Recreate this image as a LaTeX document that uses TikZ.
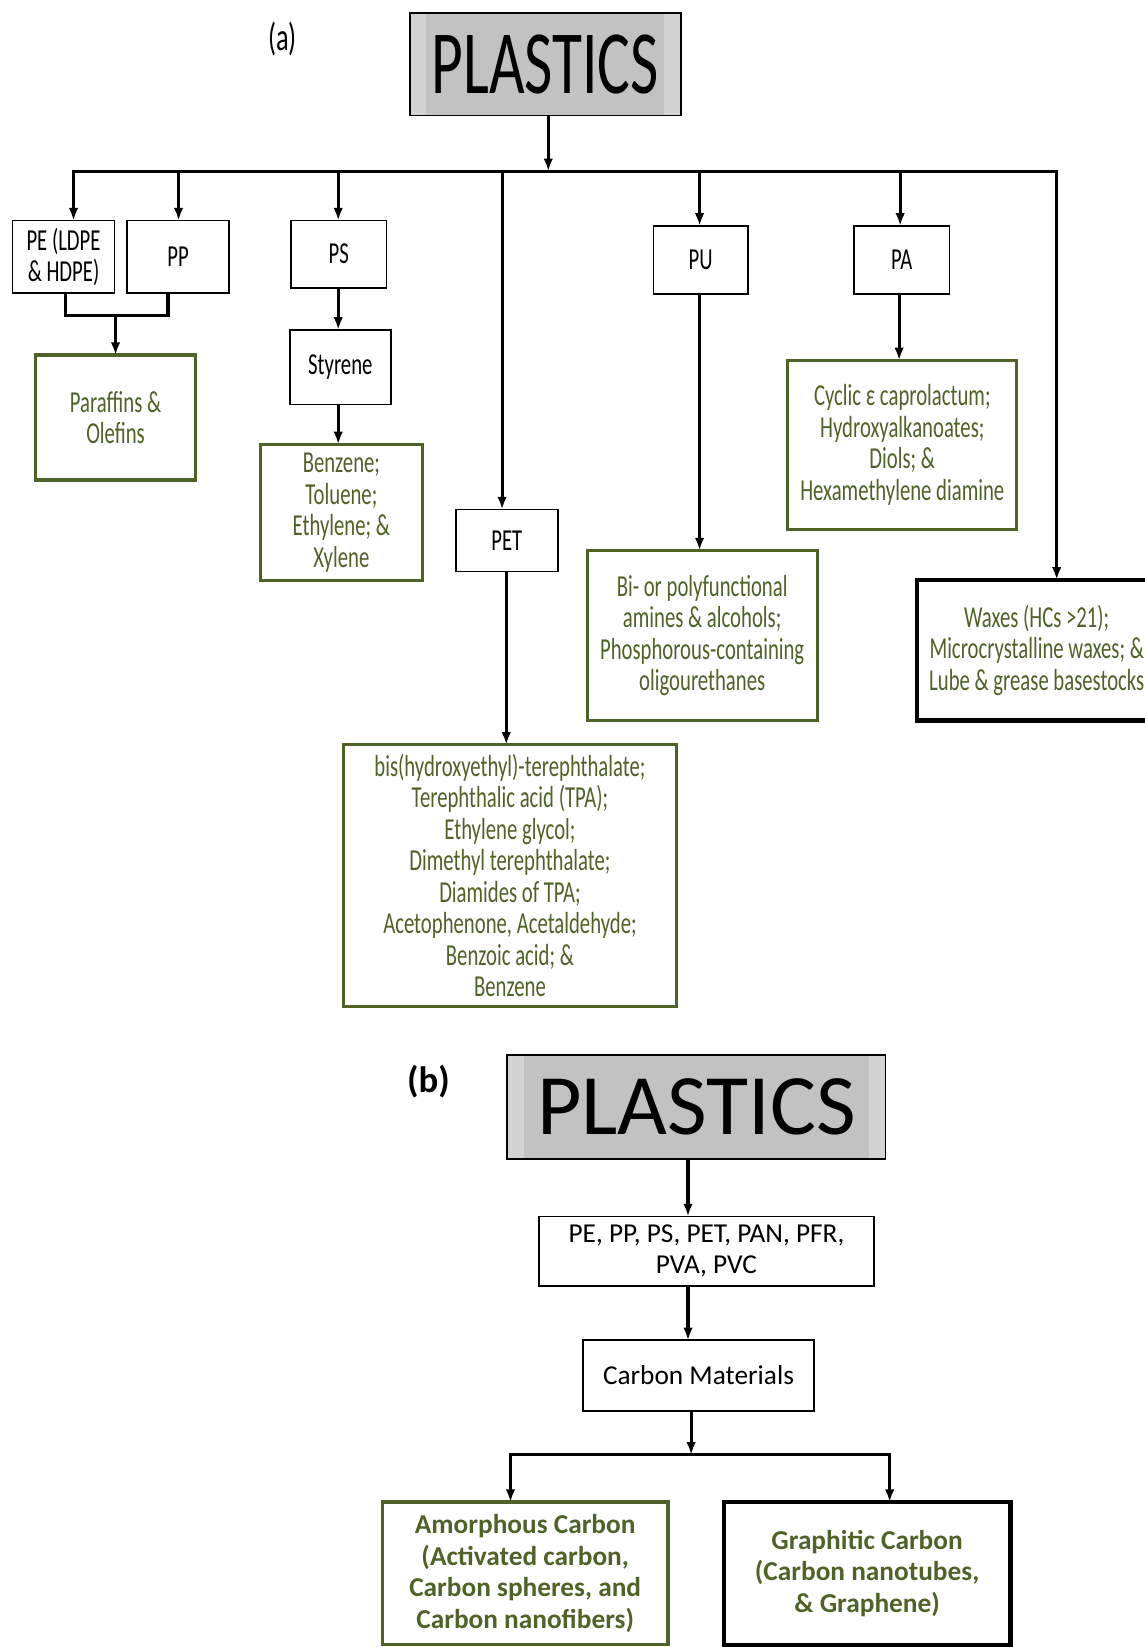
\documentclass[tikz,border=0pt]{standalone}
\usepackage{fontspec}
\setmainfont{Carlito}
\newfontfamily\cf[FakeStretch=0.68]{Carlito}
\usetikzlibrary{arrows.meta}
\definecolor{olive}{HTML}{4F6228}
\definecolor{plgray}{HTML}{C2C2C2}
\definecolor{plgrayl}{HTML}{D3D3D3}
\begin{document}
\begin{tikzpicture}[x=1pt,y=-1pt,
  every node/.style={inner sep=0pt, outer sep=0pt, align=center},
  conn/.style={line width=3pt},
  arr/.style={line width=3pt,-{Latex[length=12pt,width=9pt]}},
  graybox/.style={draw=black,line width=1.8pt,fill=plgrayl,
    path picture={\fill[plgray] ([xshift=16pt]path picture bounding box.south west) rectangle ([xshift=-16pt]path picture bounding box.north east);}},
  abox/.style={draw=black,line width=1.6pt,fill=white,font=\cf\fontsize{29}{30}\selectfont},
  agreen/.style={draw=olive,line width=3pt,fill=white,text=olive,font=\cf\fontsize{29}{30}\selectfont},
  ablack/.style={draw=black,line width=4pt,fill=white,text=olive,font=\cf\fontsize{29}{30}\selectfont},
  bbox/.style={draw=black,line width=1.6pt,fill=white,font=\fontsize{26}{29}\selectfont},
  bgreen/.style={draw=olive,line width=3pt,fill=white,text=olive,font=\bfseries\fontsize{26}{30}\selectfont},
  bblack/.style={draw=black,line width=4pt,fill=white,text=olive,font=\bfseries\fontsize{26}{30}\selectfont}
]
\useasboundingbox (0,0) rectangle (1090,1568);
\fill[white] (0,0) rectangle (1090,1568);

% ---------------- (a) ----------------
\node[font=\cf\fontsize{37}{37}\selectfont] (labA) at (269,37) {(a)};
\node[graybox, minimum width=258, minimum height=98, font=\cf\fontsize{86}{86}\selectfont] (plasA) at (519,61) {PLASTICS};

\node[abox, minimum width=97, minimum height=69] (PE) at (60.5,244.5) {PE (LDPE\\\& HDPE)};
\node[abox, minimum width=97, minimum height=69] (PP) at (169.5,244.5) {PP};
\node[abox, minimum width=91, minimum height=64] (PS) at (322.5,242) {PS};
\node[abox, minimum width=96, minimum height=71] (Sty) at (324,349.5) {Styrene};
\node[agreen, minimum width=152, minimum height=119] (Par) at (110,397.5) {Paraffins \&\\Olefins};
\node[agreen, minimum width=154, minimum height=130] (Ben) at (325,488) {\rule{0pt}{0pt}\raisebox{0pt}{}Benzene;\\Toluene;\\Ethylene; \&\\Xylene};
\node[abox, minimum width=97, minimum height=59] (PET) at (482.5,514.5) {PET};
\node[agreen, minimum width=317, minimum height=249] (PETp) at (485.5,833.5) {bis(hydroxyethyl)-terephthalate;\\Terephthalic acid (TPA);\\Ethylene glycol;\\Dimethyl terephthalate;\\Diamides of TPA;\\Acetophenone, Acetaldehyde;\\Benzoic acid; \&\\Benzene};
\node[abox, minimum width=90, minimum height=65] (PU) at (667,247.5) {PU};
\node[agreen, minimum width=219, minimum height=162] (PUp) at (668.5,605) {Bi- or polyfunctional\\amines \& alcohols;\\Phosphorous-containing\\oligourethanes};
\node[abox, minimum width=91, minimum height=65] (PA) at (858.5,247.5) {PA};
\node[agreen, minimum width=218, minimum height=161] (PAp) at (859,423.5) {Cyclic ε caprolactum;\\Hydroxyalkanoates;\\Diols; \&\\Hexamethylene diamine};
\node[ablack, minimum width=228, minimum height=134] (Wax) at (987,619) {Waxes (HCs >21);\\Microcrystalline waxes; \&\\Lube \& grease basestocks};

% bar and branches
\coordinate (bPE) at (70,163);
\coordinate (bPP) at (170,163);
\coordinate (bPS) at (322,163);
\coordinate (bPET) at (478,163);
\coordinate (bTop) at (522,163);
\coordinate (bPU) at (666,163);
\coordinate (bPA) at (857,163);
\coordinate (bWax) at (1006,163);

\draw[arr] (bTop |- plasA.south) -- (bTop);
\draw[arr] (bTop) -- (bPE) -- (bPE |- PE.north);
\draw[arr] (bTop) -- (bWax) -- (bWax |- Wax.north);
\draw[arr] (bPP) -- (bPP |- PP.north);
\draw[arr] (bPS) -- (bPS |- PS.north);
\draw[arr] (bPET) -- (bPET |- PET.north);
\draw[arr] (bPU) -- (bPU |- PU.north);
\draw[arr] (bPA) -- (bPA |- PA.north);

% PE/PP join
\coordinate (jL) at (62,300);
\coordinate (jR) at (160,300);
\coordinate (jM) at (110,300);
\draw[conn] (jL |- PE.south) -- (jL) -- (jR) -- (jR |- PP.south);
\draw[arr] (jM) -- (Par.north);

\draw[arr] (PS.south -| 322,0) -- (Sty.north -| 322,0);
\draw[arr] (Sty.south -| 322,0) -- (Ben.north -| 322,0);
\draw[arr] (PET.south -| 482,0) -- (PETp.north -| 482,0);
\draw[arr] (PU.south -| 666,0) -- (PUp.north -| 666,0);
\draw[arr] (PA.south -| 856,0) -- (PAp.north -| 856,0);

% ---------------- (b) ----------------
\node[font=\bfseries\fontsize{35}{35}\selectfont] (labB) at (408,1030) {(b)};
\node[graybox, minimum width=360, minimum height=99, font=\fontsize{82}{82}\selectfont] (plasB) at (663,1053.5) {PLASTICS};
\node[bbox, minimum width=319, minimum height=66] (list) at (672.5,1191) {PE, PP, PS, PET, PAN, PFR,\\PVA, PVC};
\node[bbox, minimum width=220, minimum height=67] (carb) at (665,1309.5) {Carbon Materials};
\node[bgreen, minimum width=272, minimum height=136] (amor) at (500,1498) {Amorphous Carbon\\(Activated carbon,\\Carbon spheres, and\\Carbon nanofibers)};
\node[bblack, minimum width=273, minimum height=136] (graph) at (825.5,1498) {Graphitic Carbon\\(Carbon nanotubes,\\\& Graphene)};

\coordinate (cTop) at (658,1385);
\coordinate (cL) at (486,1385);
\coordinate (cR) at (847,1385);
\draw[arr] (plasB.south -| 655,0) -- (list.north -| 655,0);
\draw[arr] (list.south -| 655,0) -- (carb.north -| 655,0);
\draw[arr] (carb.south -| cTop) -- (cTop);
\draw[arr] (cTop) -- (cL) -- (cL |- amor.north);
\draw[arr] (cTop) -- (cR) -- (cR |- graph.north);
\end{tikzpicture}
\end{document}
